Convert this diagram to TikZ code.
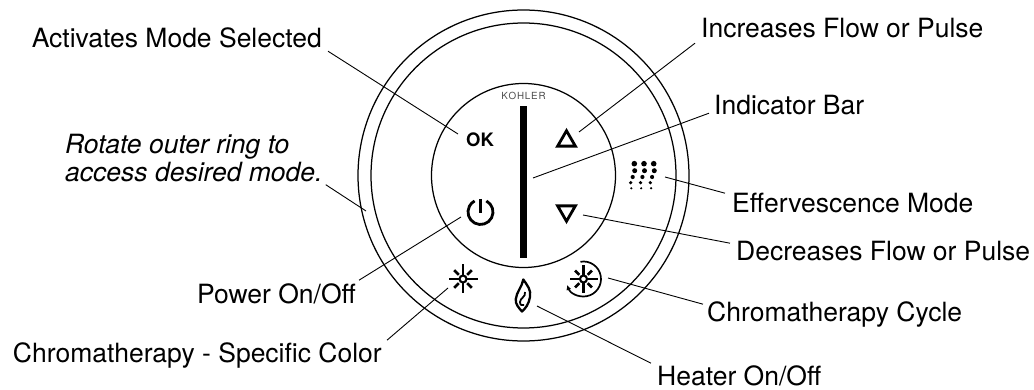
\documentclass[tikz,border=0pt]{standalone}
\usepackage{fontspec}
\setmainfont{TeX Gyre Heros}
\usetikzlibrary{shapes.geometric, arrows.meta, calc}

\begin{document}
\begin{tikzpicture}[
        x=1pt, y=-1pt,
        ring/.style={draw=black, line width=1.25pt},
        leader/.style={draw=black, line width=0.9pt},
        callout/.style={inner sep=0pt, text height=16pt, text depth=5pt, font=\fontsize{26.5}{28}\selectfont},
        tri/.style={regular polygon, regular polygon sides=3, draw=black, line width=2.8pt, minimum size=20.5pt, inner sep=0pt},
        ray/.style={line width=2.6pt},
        sunray/.style={line width=2.1pt}
    ]
        \useasboundingbox (0,0) rectangle (1034,390);

        % Anillos y panel central
        \coordinate (hub) at (523.5,175.5);
        \draw [ring] (hub) circle (165.5);
        \draw [ring] (hub) circle (152.5);
        \draw [ring] (hub) circle (92);
        \node [rectangle, fill=black, minimum width=7pt, minimum height=152pt, inner sep=0pt] (bar) at (523.5,182) {};
        \node [inner sep=0pt, text=black!70, font=\fontsize{9.8}{10}\selectfont] (brand) at (523.5,96) {K\kern0.8pt O\kern0.8pt H\kern0.8pt L\kern0.8pt E\kern0.8pt R};

        % Iconos del panel
        \node [inner sep=0pt, font=\fontsize{18.5}{20}\selectfont\bfseries] (ok) at (480,140) {OK};
        \node [tri] (up) at (566.5,141) {};
        \node [tri, shape border rotate=180] (down) at (566.5,211) {};

        \coordinate (power) at (480.5,212);
        \draw [line width=2.8pt] (power) ++(-62:12.5) arc[start angle=-62, end angle=242, radius=12.5];
        \draw [line width=2.8pt] (480.5,199) -- (480.5,213);

        % Burbujas
        \foreach \col in {0,1,2} {
            \fill ($(634.3,163.7)+(9.7*\col,0)$) circle (2.8);
            \fill ($(634.7,170.7)+(9.8*\col,0)$) circle (2.5);
            \fill ($(632.7,177)+(9.7*\col,0)$) circle (2.1);
            \fill ($(630.7,182.7)+(9.8*\col,0)$) circle (1.8);
            \fill ($(631.3,188.3)+(9.9*\col,0)$) circle (1.2);
        }

        % Color fijo
        \coordinate (sun) at (463,279);
        \draw [sunray] (sun) circle (3.5);
        \foreach \ang in {0,90,180,270} \draw [ray] (sun) ++(\ang:4) -- ++(\ang:10.5);
        \foreach \ang in {45,135,225,315} \draw [ray] (sun) ++(\ang:6) -- ++(\ang:6.5);

        % Ciclo de color
        \coordinate (cycle) at (583.5,279);
        \draw [sunray] (cycle) circle (3.5);
        \foreach \ang in {0,90,180,270} \draw [ray] (cycle) ++(\ang:4) -- ++(\ang:10);
        \foreach \ang in {45,135,225,315} \draw [ray] (cycle) ++(\ang:6) -- ++(\ang:6);
        \draw [-{Latex[length=5pt, width=5pt]}, line width=1.7pt] (cycle) ++(-100:17.5) arc[start angle=-100, end angle=160, radius=17.5];

        % Llama
        \draw [line width=2.3pt, line join=round] (523.3,279.5) .. controls (527,285) and (531.5,290) .. (530,297) .. controls (529,304) and (525,309) .. (522,311.5) .. controls (519,308) and (515,304) .. (515.8,299) .. controls (516.5,292) and (522,287) .. (523.3,279.5) -- cycle;
        \draw [line width=1.8pt] (525,292) .. controls (526,297) and (520,298) .. (520,302) .. controls (520,305) and (522,306) .. (524,305);

        % Rotulos
        \node [callout, anchor=base east] (lblok) at (322,48) {Activates Mode Selected};
        \node [callout, anchor=base west] (lblup) at (701,38) {Increases Flow or Pulse};
        \node [callout, anchor=base west] (lblbar) at (714,115) {Indicator Bar};
        \node [callout, anchor=base west] (lblfizz) at (732,213) {Effervescence Mode};
        \node [callout, anchor=base west] (lbldown) at (736,261) {Decreases Flow or Pulse};
        \node [callout, anchor=base west] (lblcycle) at (707,321) {Chromatherapy Cycle};
        \node [callout, anchor=base west] (lblheat) at (657,385) {Heater On/Off};
        \node [callout, anchor=base east] (lblpower) at (356,303) {Power On/Off};
        \node [callout, anchor=base east] (lblsun) at (382,362) {Chromatherapy - Specific Color};
        \node [callout, anchor=west, align=left, font=\fontsize{26.5}{28}\selectfont\itshape] (lblring) at (65,176.5) {Rotate outer ring to\\access desired mode.};

        % Extremos junto a los iconos
        \coordinate (okend) at (458,134);
        \coordinate (upend) at (579,132);
        \coordinate (barend) at (533,178);
        \coordinate (fizzend) at (665,177);
        \coordinate (downend) at (583,215);
        \coordinate (cycleend) at (608,278);
        \coordinate (heatend) at (537,306);
        \coordinate (powerend) at (461,217);
        \coordinate (sunend) at (448,288);
        \coordinate (ringend) at (366,211);

        % Lineas guia
        \draw [leader] ([shift={(6,-2)}]lblok.south east) -- (okend);
        \draw [leader] ([shift={(-6,0)}]lblup.south west) -- (upend);
        \draw [leader] ([shift={(-5,-7)}]lblbar.south west) -- (barend);
        \draw [leader] ([shift={(-7,-25)}]lblfizz.south west) -- (fizzend);
        \draw [leader] ([shift={(-6,-23)}]lbldown.south west) -- (downend);
        \draw [leader] ([shift={(-4,-22)}]lblcycle.south west) -- (cycleend);
        \draw [leader] ([shift={(-6,-27)}]lblheat.south west) -- (heatend);
        \draw [leader] ([shift={(3,-28)}]lblpower.south east) -- (powerend);
        \draw [leader] ([shift={(5,-27)}]lblsun.south east) -- (sunend);
        \draw [leader] ([shift={(3,-2.5)}]lblring.south east) -- (ringend);
    \end{tikzpicture}
\end{document}
